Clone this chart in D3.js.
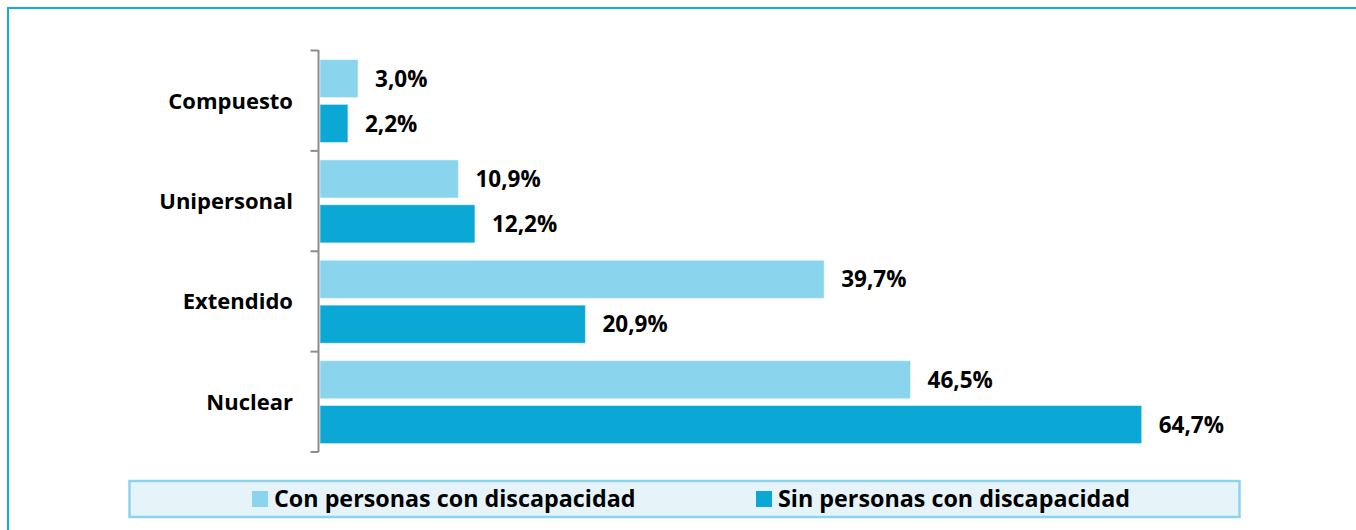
<!DOCTYPE html>
<html>
<head>
<meta charset="utf-8">
<script src="https://cdn.jsdelivr.net/npm/d3@7"></script>
<style>
  html, body { margin: 0; padding: 0; background: #ffffff; }
  svg { display: block; }
  text { font-family: "Open Sans", "Noto Sans", sans-serif; font-weight: 700; fill: #000; }
</style>
</head>
<body>
<svg id="chart" width="1356" height="530"></svg>
<script>
const categories = ["Compuesto", "Unipersonal", "Extendido", "Nuclear"];
const seriesNames = ["Con personas con discapacidad", "Sin personas con discapacidad"];
const conValues = [3.0, 10.9, 39.7, 46.5];
const sinValues = [2.2, 12.2, 20.9, 64.7];
const colors = ["#8AD5ED", "#0BA8D6"];

const svg = d3.select("#chart");
const W = 1356, H = 530;

// outer frame
svg.append("rect")
  .attr("x", 8).attr("y", 8)
  .attr("width", W + 20).attr("height", H + 20)
  .attr("fill", "none").attr("stroke", "#14ACD9").attr("stroke-width", 2);

const x = d3.scaleLinear().domain([0, 70]).range([320, 1209]);
const y = d3.scaleBand().domain(categories).range([50.5, 452]).paddingInner(0).paddingOuter(0);
const yInner = d3.scaleBand().domain(seriesNames).range([9, 92]).paddingInner(0.15).paddingOuter(0);

const data = categories.map((c, i) => ({
  cat: c,
  vals: [
    { s: seriesNames[0], v: conValues[i], color: colors[0] },
    { s: seriesNames[1], v: sinValues[i], color: colors[1] }
  ]
}));

const groups = svg.append("g").selectAll("g")
  .data(data).join("g")
  .attr("transform", d => `translate(0,${y(d.cat)})`);

groups.selectAll("rect")
  .data(d => d.vals).join("rect")
  .attr("x", x(0))
  .attr("y", d => yInner(d.s))
  .attr("width", d => x(d.v) - x(0))
  .attr("height", yInner.bandwidth())
  .attr("fill", d => d.color)
  .attr("stroke", "#ffffff")
  .attr("stroke-opacity", 0.5)
  .attr("stroke-width", 1);

groups.selectAll("text.val")
  .data(d => d.vals).join("text")
  .attr("class", "val")
  .attr("x", d => x(d.v) + 17)
  .attr("y", d => yInner(d.s) + yInner.bandwidth() / 2)
  .attr("dy", "0.36em")
  .attr("font-size", 22.5)
  .text(d => d.v.toFixed(1).replace(".", ",") + "%");

// y axis
const yAxis = d3.axisLeft(y).tickSize(8).tickFormat("");
const axisG = svg.append("g").attr("transform", "translate(318.5,0)").call(yAxis);
axisG.select(".domain").remove();
axisG.selectAll(".tick").remove();
axisG.append("line").attr("x1", 0).attr("x2", 0).attr("y1", 50).attr("y2", 452)
  .attr("stroke", "#8C8C8C").attr("stroke-width", 2);
const bounds = categories.map(c => y(c)).concat([y(categories[categories.length - 1]) + y.bandwidth()]);
axisG.selectAll("line.bt").data(bounds).join("line")
  .attr("class", "bt")
  .attr("x1", -8).attr("x2", 0)
  .attr("y1", d => d).attr("y2", d => d)
  .attr("stroke", "#8C8C8C").attr("stroke-width", 2);

// category labels
svg.append("g").selectAll("text")
  .data(categories).join("text")
  .attr("x", 293)
  .attr("y", d => y(d) + y.bandwidth() / 2)
  .attr("dy", "0.36em")
  .attr("text-anchor", "end")
  .attr("font-size", 22)
  .text(d => d);

// legend
const lg = svg.append("g");
lg.append("rect")
  .attr("x", 129.5).attr("y", 481)
  .attr("width", 1110).attr("height", 36)
  .attr("fill", "#E6F4FA").attr("stroke", "#8AD5ED").attr("stroke-width", 2.5);
const legendX = [252, 756];
seriesNames.forEach((s, i) => {
  lg.append("rect")
    .attr("x", legendX[i]).attr("y", 491)
    .attr("width", 16).attr("height", 16)
    .attr("fill", colors[i]);
  lg.append("text")
    .attr("x", legendX[i] + 22)
    .attr("y", 499)
    .attr("dy", "0.36em")
    .attr("font-size", 23.3)
    .text(s);
});
</script>
</body>
</html>
